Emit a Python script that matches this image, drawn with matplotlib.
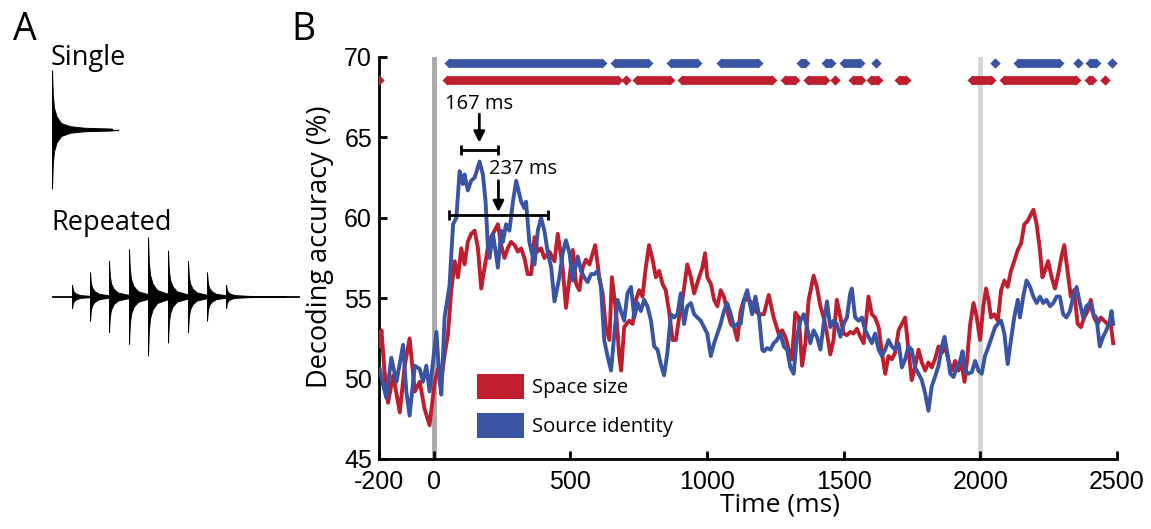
import numpy as np
import matplotlib.pyplot as plt
from matplotlib.patches import Patch

plt.rcParams['font.family'] = ['Open Sans', 'DejaVu Sans']
plt.rcParams['axes.unicode_minus'] = False

# ---------------- panel B: decoding time courses ----------------
time_red = [-198, -191, -180, -167, -148, -124, -106, -88, -69, -51, -33, -15, 4, 16, 28, 40,
            52, 64, 77, 89, 101, 113, 125, 137, 150, 162, 174, 186, 198, 210, 223, 235, 247,
            259, 271, 283, 296, 308, 320, 332, 344, 357, 369, 381, 393, 405, 423, 442, 454,
            472, 484, 497, 509, 521, 533, 545, 557, 570, 582, 591, 606, 618, 630, 643, 652,
            667, 679, 686, 697, 715, 728, 740, 752, 764, 776, 788, 801, 813, 825, 837, 849,
            861, 874, 886, 898, 910, 928, 941, 953, 971, 983, 993, 1001, 1014, 1026, 1038,
            1050, 1062, 1074, 1087, 1099, 1111, 1123, 1135, 1153, 1165, 1177, 1190, 1208,
            1226, 1244, 1262, 1275, 1287, 1299, 1311, 1323, 1336, 1348, 1360, 1372, 1390,
            1402, 1415, 1427, 1439, 1451, 1463, 1475, 1488, 1500, 1512, 1524, 1536, 1548,
            1561, 1573, 1591, 1603, 1615, 1628, 1640, 1652, 1664, 1676, 1688, 1701, 1713,
            1725, 1737, 1749, 1761, 1774, 1786, 1798, 1810, 1822, 1834, 1847, 1859, 1871,
            1884, 1896, 1908, 1920, 1932, 1942, 1950, 1963, 1975, 1987, 1999, 2011, 2021,
            2030, 2039, 2051, 2064, 2076, 2088, 2100, 2112, 2124, 2137, 2149, 2161, 2173,
            2185, 2194, 2206, 2218, 2227, 2236, 2248, 2261, 2273, 2285, 2297, 2307, 2319,
            2331, 2343, 2356, 2368, 2380, 2392, 2404, 2416, 2429, 2441, 2453, 2465, 2477, 2486]
acc_red = [52.0, 53.0, 50.5, 48.5, 50.2, 47.9, 50.8, 52.5, 49.2, 49.8, 48.1, 47.1, 49.8, 50.6, 49.9, 51.5,
           52.7, 55.4, 57.3, 56.3, 58.1, 57.1, 58.5, 59.0, 59.2, 58.1, 55.6, 56.9, 58.1, 58.8, 59.2, 59.6, 58.3,
           57.5, 58.1, 58.5, 58.3, 57.9, 58.1, 57.5, 56.5, 56.5, 58.8, 57.9, 58.1, 57.5, 57.9, 57.3, 59.0,
           56.9, 54.4, 56.3, 58.0, 55.9, 55.5, 56.9, 57.4, 57.1, 57.8, 58.3, 56.3, 55.3, 53.2, 52.4, 56.3,
           54.2, 51.4, 50.5, 53.2, 53.6, 53.4, 54.9, 55.5, 55.1, 56.9, 58.3, 57.4, 56.3, 56.7, 55.9, 55.5,
           54.2, 52.4, 52.4, 53.8, 54.9, 57.1, 56.3, 55.3, 56.3, 56.9, 57.8, 56.3, 55.9, 54.9, 54.5,
           55.5, 55.1, 54.2, 53.4, 53.2, 52.4, 54.2, 54.9, 54.9, 54.7, 54.2, 54.0, 54.0,
           55.2, 53.8, 52.8, 53.0, 52.6, 51.8, 51.2, 54.1, 53.8, 50.8, 52.2, 54.9, 56.4,
           55.7, 54.5, 53.8, 52.8, 51.5, 52.4, 54.9, 53.8, 52.8, 52.7, 52.9, 52.8, 53.1,
           52.6, 52.2, 55.1, 54.0, 53.8, 53.2, 51.6, 50.3, 51.4, 51.2, 51.6, 53.0, 53.4,
           53.8, 51.8, 49.9, 50.7, 51.8, 51.0, 50.5, 51.0, 50.7, 51.2, 52.0, 51.6, 52.0,
           51.1, 50.5, 51.1, 50.5, 50.9, 49.8, 50.9, 53.4, 54.7, 53.8, 52.4, 54.5, 55.6,
           54.9, 53.8, 54.0, 53.6, 55.5, 56.1, 55.7, 56.7, 57.3, 58.0, 58.4, 59.6, 59.8,
           60.2, 60.5, 59.6, 58.0, 56.3, 56.7, 57.3, 56.3, 55.6, 56.5, 57.6, 58.3, 56.7,
           55.1, 55.5, 53.4, 53.2, 53.8, 54.2, 54.9, 53.8, 53.4, 53.8, 53.6, 53.4, 53.4, 52.2]

time_blue = [-197, -185, -173, -155, -136, -112, -100, -88, -69, -51, -39, -27, -15, 10, 22, 28,
             40, 58, 71, 83, 95, 107, 113, 125, 137, 150, 168, 180, 190, 198, 204, 217, 235,
             247, 253, 265, 277, 290, 302, 320, 332, 338, 350, 369, 381, 393, 405, 417, 430,
             442, 460, 472, 484, 497, 509, 521, 527, 539, 551, 563, 576, 588, 600, 612, 624,
             636, 649, 661, 673, 685, 697, 709, 722, 734, 746, 758, 770, 782, 795, 807, 819,
             831, 843, 855, 868, 880, 892, 904, 916, 928, 941, 953, 965, 977, 989, 1001, 1014,
             1026, 1038, 1050, 1062, 1074, 1087, 1099, 1111, 1123, 1135, 1147, 1165, 1177,
             1190, 1202, 1208, 1220, 1232, 1244, 1256, 1269, 1281, 1293, 1305, 1317, 1329,
             1342, 1354, 1366, 1378, 1390, 1402, 1415, 1427, 1439, 1451, 1463, 1475, 1488,
             1500, 1512, 1524, 1530, 1542, 1555, 1567, 1579, 1591, 1603, 1615, 1628, 1640,
             1652, 1664, 1676, 1688, 1701, 1713, 1725, 1737, 1749, 1761, 1774, 1786, 1798,
             1810, 1822, 1834, 1847, 1859, 1869, 1881, 1890, 1902, 1914, 1926, 1935, 1944,
             1956, 1969, 1981, 1993, 2005, 2017, 2030, 2042, 2054, 2064, 2076, 2088, 2100,
             2112, 2124, 2137, 2145, 2157, 2169, 2182, 2194, 2206, 2218, 2230, 2242, 2255,
             2267, 2279, 2291, 2303, 2315, 2328, 2340, 2352, 2364, 2376, 2388, 2401, 2413,
             2425, 2437, 2449, 2461, 2474, 2480, 2486]
acc_blue = [50.6, 49.6, 48.8, 51.3, 49.8, 52.1, 49.2, 47.7, 50.8, 50.6, 49.8, 50.8, 49.2, 52.9, 49.8, 49.0,
            53.8, 55.8, 59.6, 60.0, 62.9, 62.1, 62.7, 61.7, 62.3, 62.5, 63.5, 62.7, 61.0, 58.3, 57.5, 59.0, 56.9,
            59.2, 58.5, 59.6, 59.2, 61.0, 62.3, 61.0, 60.6, 61.0, 58.5, 57.1, 59.2, 60.0, 59.2, 57.9, 56.9,
            54.8, 56.3, 57.8, 58.6, 57.8, 56.1, 57.1, 57.6, 56.7, 56.3, 56.0, 56.5, 56.5, 56.7, 55.7, 52.4,
            51.4, 50.5, 52.8, 54.9, 54.2, 53.6, 55.3, 55.7, 53.8, 54.7, 54.2, 54.9, 54.5, 53.6, 52.0, 51.8,
            50.9, 50.2, 51.6, 54.0, 53.8, 54.0, 55.3, 53.4, 54.5, 54.7, 54.0, 53.8, 53.6, 53.2, 52.8, 51.4,
            52.2, 52.8, 53.4, 54.2, 54.7, 54.0, 53.2, 53.4, 53.4, 54.9, 55.5, 54.0, 55.1,
            54.0, 51.8, 51.7, 51.9, 51.8, 52.2, 52.4, 52.8, 52.0, 51.8, 50.7, 50.3, 52.6,
            53.6, 54.0, 53.2, 52.2, 53.0, 52.6, 51.8, 53.4, 54.8, 53.2, 53.6, 53.4, 52.6,
            53.4, 53.8, 55.3, 55.6, 53.8, 53.6, 53.8, 53.0, 52.6, 52.2, 52.8, 51.8, 51.4,
            51.8, 52.4, 52.0, 51.8, 52.2, 50.7, 51.2, 52.0, 51.8, 50.7, 50.3, 49.9, 49.1,
            48.0, 49.5, 50.1, 50.8, 52.0, 52.6, 51.4, 50.3, 50.1, 50.7, 51.1, 51.7, 50.5,
            50.3, 50.4, 51.1, 50.5, 50.3, 51.4, 52.0, 52.6, 53.2, 53.4, 53.6, 52.8, 50.9,
            52.4, 53.8, 54.9, 53.8, 55.1, 56.1, 55.7, 55.1, 54.7, 55.1, 54.7, 54.9, 54.5,
            54.7, 55.1, 55.1, 54.0, 53.8, 54.2, 55.1, 55.7, 54.7, 53.8, 54.5, 54.7, 54.0,
            53.8, 52.0, 52.6, 53.0, 53.6, 54.2, 53.4]

# significant time windows (ms), first..last significant time point
sig_red = [(-200, -200), (49, 676), (703, 703), (743, 865), (907, 1236), (1284, 1321),
           (1369, 1430), (1470, 1470), (1533, 1564), (1600, 1625), (1704, 1729),
           (1971, 2039), (2087, 2349), (2397, 2410), (2455, 2455)]
sig_blue = [(55, 615), (663, 785), (870, 962), (1053, 1185), (1345, 1357), (1436, 1455),
            (1503, 1558), (1618, 1618), (2054, 2054), (2136, 2288), (2356, 2356),
            (2403, 2422), (2480, 2480)]
sig_level = {'red': 68.6, 'blue': 69.6}

# peak latencies with confidence intervals
peak_lat = [167, 237]
peak_ci = [(101, 235), (55, 420)]
peak_level = [64.2, 60.15]

# ---------------- panel A: sound envelopes ----------------
decay_t = [0, 8, 20, 45, 90, 180, 320, 600]
decay_a = [1.0, 0.58, 0.37, 0.22, 0.11, 0.055, 0.03, 0.015]
single_len = 650
rep_onsets = [200, 380, 570, 770, 960, 1160, 1360, 1550, 1740]
rep_amps = [0.2, 0.41, 0.6, 0.8, 1.0, 0.78, 0.6, 0.41, 0.2]
rep_len = 2460

red = '#be1e2d'
blue = '#3a54a4'

fig = plt.figure(figsize=(11.51, 5.29), dpi=100)
W, H = 1151, 529


def draw_burst(a, onset, amp):
    t = np.array(decay_t) + onset
    env = amp * np.array(decay_a)
    a.fill(np.r_[t, t[::-1]], np.r_[env, -env[::-1]], color='k', lw=0.7)


axS = fig.add_axes([52 / W, 1 - 191 / H, 70 / W, 122 / H])
axS.plot([0, single_len], [0, 0], color='k', lw=1)
draw_burst(axS, 0, 1.0)
axS.set_xlim(-5, 695)
axS.set_ylim(-1.03, 1.03)
axS.axis('off')

axR = fig.add_axes([52 / W, 1 - 358 / H, 250 / W, 122 / H])
axR.plot([0, rep_len], [0, 0], color='k', lw=1.3)
for on, am in zip(rep_onsets, rep_amps):
    draw_burst(axR, on, am)
axR.set_xlim(-5, 2495)
axR.set_ylim(-1.03, 1.03)
axR.axis('off')

fig.text(13 / W, 1 - 40 / H, 'A', fontsize=27, va='baseline')
fig.text(291 / W, 1 - 40 / H, 'B', fontsize=27, va='baseline')
fig.text(51 / W, 1 - 65 / H, 'Single', fontsize=19.5, va='baseline')
fig.text(51 / W, 1 - 230 / H, 'Repeated', fontsize=19.5, va='baseline')

# ---------------- panel B ----------------
ax = fig.add_axes([379 / W, 70 / H, 738 / W, 402 / H])
ax.axvline(0, color='#a9a9a9', lw=3.5, zorder=1)
ax.axvline(2000, color='#d6d6d6', lw=3.5, zorder=1)

ax.plot(time_red, acc_red, color=red, lw=2.8, zorder=3)
ax.plot(time_blue, acc_blue, color=blue, lw=2.8, zorder=4)

for ivals, col, key in [(sig_red, red, 'red'), (sig_blue, blue, 'blue')]:
    for lo, hi in ivals:
        y = sig_level[key]
        ax.plot([lo, hi], [y, y], color=col, lw=6.3, solid_capstyle='butt', zorder=5)
        ax.plot([lo, hi], [y, y], 'D', ms=4.6, color=col, mec='none', zorder=5)

for lat, (lo, hi), lev in zip(peak_lat, peak_ci, peak_level):
    ax.errorbar([lat], [lev], xerr=[[lat - lo], [hi - lat]], fmt='none', ecolor='k',
                elinewidth=2, capsize=3.3, capthick=2, zorder=6)

ax.annotate('', xy=(peak_lat[0], peak_level[0]), xytext=(0, 26), textcoords='offset points',
            arrowprops=dict(arrowstyle='-|>', color='k', lw=2, mutation_scale=16,
                            shrinkA=0, shrinkB=5.5), zorder=6)
ax.annotate('167 ms', xy=(peak_lat[0], peak_level[0]), xytext=(0, 29.5), textcoords='offset points',
            ha='center', va='baseline', fontsize=14.5)
ax.annotate('', xy=(peak_lat[1], peak_level[1]), xytext=(0, 25), textcoords='offset points',
            arrowprops=dict(arrowstyle='-|>', color='k', lw=2, mutation_scale=16,
                            shrinkA=0, shrinkB=2.4), zorder=6)
ax.annotate('237 ms', xy=(peak_lat[1], peak_level[1]), xytext=(-7, 30), textcoords='offset points',
            ha='left', va='baseline', fontsize=14.5)

ax.set_xlim(-200, 2500)
ax.set_ylim(45, 70)
ax.set_xticks([-200, 0, 500, 1000, 1500, 2000, 2500])
ax.set_yticks([45, 50, 55, 60, 65, 70])
for s in ['top', 'right']:
    ax.spines[s].set_visible(False)
for s in ['left', 'bottom']:
    ax.spines[s].set_linewidth(2)
ax.tick_params(direction='in', length=6, width=2, labelsize=18)
ax.tick_params(axis='x', pad=8)
ax.tick_params(axis='y', pad=5)
for lbl in ax.get_xticklabels() + ax.get_yticklabels():
    lbl.set_fontfamily('Liberation Sans')

ax.set_xlabel('Time (ms)', fontsize=19)
ax.xaxis.set_label_coords((780 - 379) / 738, -(492 - 459) / 402)
ax.set_ylabel('Decoding accuracy (%)', fontsize=19.5)
ax.yaxis.set_label_coords(-(379 - 334) / 738, (459 - 247) / 402)

handles = [Patch(facecolor=red, edgecolor='none', label='Space size'),
           Patch(facecolor=blue, edgecolor='none', label='Source identity')]
ax.legend(handles=handles, loc='upper left', bbox_to_anchor=((477 - 379) / 738, (459 - 374) / 402),
          frameon=False, fontsize=14.5, handlelength=2.34, handleheight=1.53,
          labelspacing=0.7, handletextpad=0.4, borderpad=0, borderaxespad=0)

fig.savefig('out.png', dpi=100)
